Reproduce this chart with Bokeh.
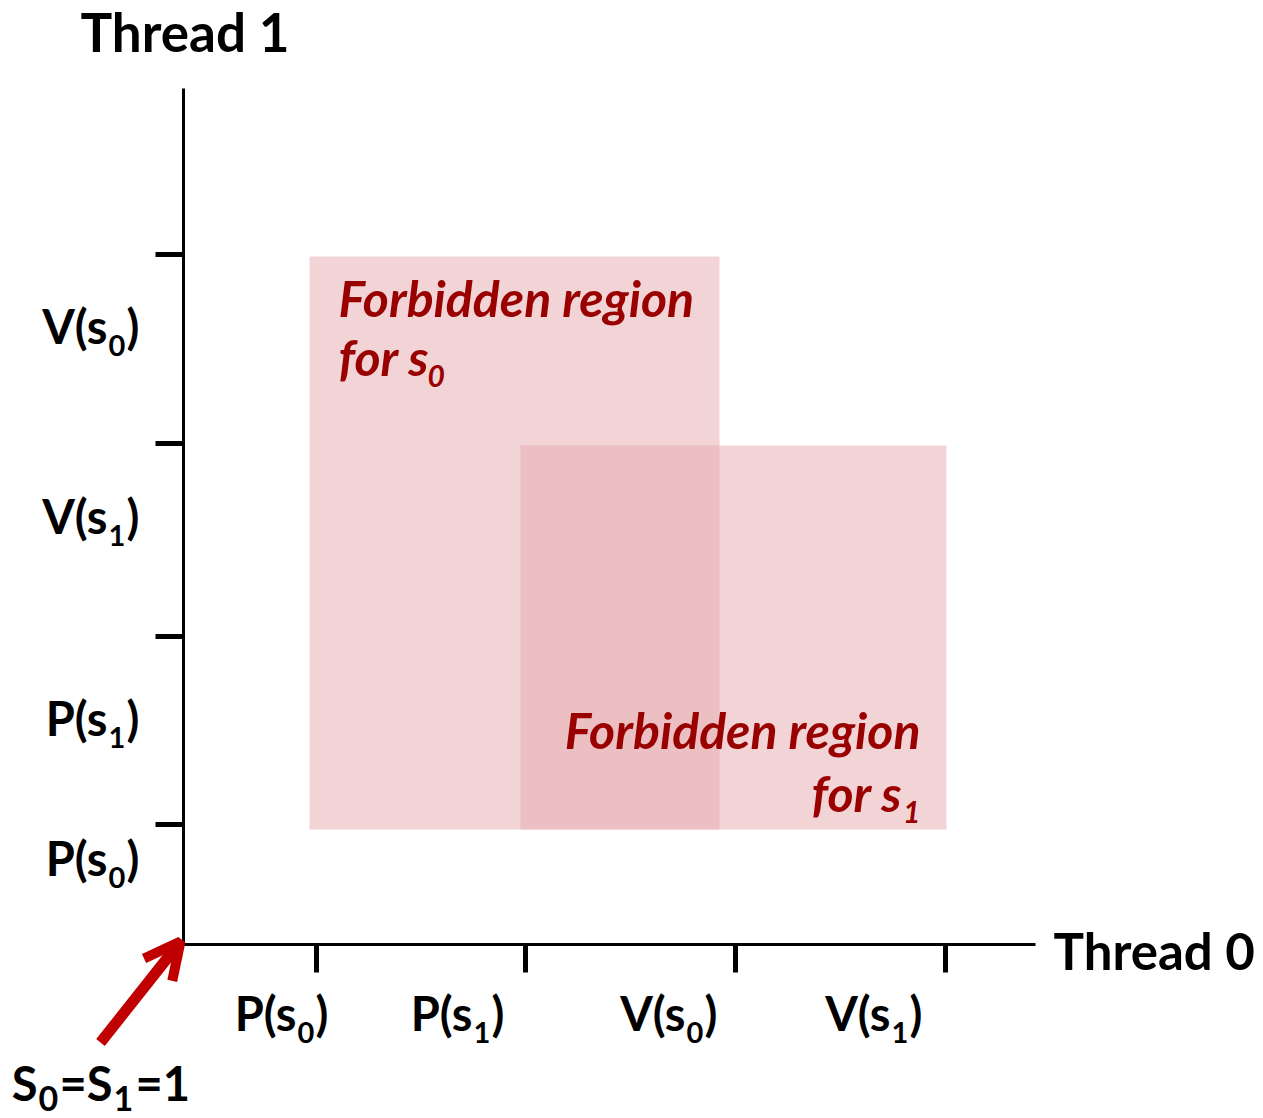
import re
from bokeh.plotting import figure
from bokeh.models import Range1d, LinearAxis, FixedTicker, Arrow, OpenHead
from bokeh.core.properties import value
from bokeh.embed import file_html
from bokeh.resources import INLINE

# ---------------- data (1 unit = 100 px of the reference drawing) -------------
thread0_events = ["P(s0)", "P(s1)", "V(s0)", "V(s1)"]
thread0_ticks = [1.33, 3.42, 5.52, 7.62]
thread1_events = ["P(s0)", "P(s1)", "V(s1)", "V(s0)"]
thread1_ticks = [1.20, 3.08, 5.01, 6.90]

region_names = ["s0", "s1"]
region_left = [1.26, 3.37]
region_right = [5.36, 7.63]
region_bottom = [1.15, 1.15]
region_top = [6.88, 4.99]

axis_x_end = 8.52
axis_y_end = 8.56

# ---------------- layout of labels ----------------
x_label_anchor = [1.13, 2.89, 5.02, 7.07]
x_label_base = -0.88
y_label_anchor = [-0.76, -0.76, -0.76, -0.76]
y_label_base = [0.67, 2.07, 4.09, 5.99]

FONT = value("Lato")
BLACK = "#000000"
DARKRED = "#990000"
RED = "#c00000"
BASE_FIX = 0.42  # baseline correction (fraction of font size)

p = figure(width=1263, height=1118, output_backend="svg", toolbar_location=None,
           x_axis_type=None, y_axis_type=None, min_border=0,
           x_range=Range1d(-1.83, 10.80), y_range=Range1d(-1.74, 9.44))
p.outline_line_color = None
p.grid.visible = False
p.background_fill_color = "white"

# forbidden regions
p.quad(left=region_left, right=region_right, bottom=region_bottom, top=region_top,
       fill_color=(229, 170, 174), fill_alpha=0.5, line_color=None)

# axes
common_axis = dict(major_tick_in=0, major_tick_out=28, minor_tick_in=0, minor_tick_out=0,
                   axis_line_width=3, major_tick_line_width=5,
                   axis_line_color=BLACK, major_tick_line_color=BLACK)
xaxis = LinearAxis(fixed_location=0, bounds=(0, axis_x_end),
                   ticker=FixedTicker(ticks=thread0_ticks),
                   major_label_overrides={t: "" for t in thread0_ticks}, **common_axis)
p.add_layout(xaxis, "below")
yaxis = LinearAxis(fixed_location=0, bounds=(0, axis_y_end),
                   ticker=FixedTicker(ticks=thread1_ticks),
                   major_label_overrides={t: "" for t in thread1_ticks}, **common_axis)
p.add_layout(yaxis, "left")


def txt(x, y, text, size, style, color, align="left", dx=0, dy=0):
    p.text(x=list(x), y=list(y), text=list(text), text_font=FONT, text_font_style=style,
           text_font_size=f"{size}px", text_color=color, text_align=align,
           text_baseline="alphabetic", x_offset=dx, y_offset=dy - round(BASE_FIX * size))


def split(lbl):
    m = re.match(r"^(.*?s)(\d)(.*)$", lbl)
    return m.group(1), m.group(2), m.group(3)


def sub_labels(xs, ys, labels, size, sub_size, drop, sub_w, color, style):
    pre, sub, post = zip(*[split(l) for l in labels])
    txt(xs, ys, pre, size, style, color, align="right")
    txt(xs, ys, sub, sub_size, style, color, align="left", dx=1, dy=drop)
    txt(xs, ys, post, size, style, color, align="left", dx=sub_w)


sub_labels(x_label_anchor, [x_label_base] * 4, thread0_events, 47, 29, 12, 19, BLACK, "bold")
sub_labels(y_label_anchor, y_label_base, thread1_events, 47, 29, 12, 19, BLACK, "bold")

# axis titles
txt([-1.03], [8.91], ["Thread 1"], 53, "bold", BLACK)
txt([8.70], [-0.27], ["Thread 0"], 51, "bold", BLACK)

# region captions
txt([1.55], [6.26], ["Forbidden region"], 50, "bold italic", DARKRED)
txt([1.55], [5.67], ["for s"], 50, "bold italic", DARKRED)
txt([1.55], [5.67], ["0"], 30, "bold italic", DARKRED, dx=89, dy=11)

txt([7.37], [1.94], ["Forbidden region"], 50, "bold italic", DARKRED, align="right")
txt([7.37], [1.31], ["for s"], 50, "bold italic", DARKRED, align="right", dx=-18)
txt([7.37], [1.31], ["1"], 30, "bold italic", DARKRED, align="right", dy=11)

# initial semaphore values
txt([-1.46], [-1.58], ["S"], 47, "bold", BLACK, align="right")
txt([-1.46], [-1.58], ["0"], 34, "bold", BLACK, dx=1, dy=10)
txt([-0.71], [-1.58], ["=S"], 47, "bold", BLACK, align="right")
txt([-0.71], [-1.58], ["1"], 34, "bold", BLACK, dx=1, dy=10)
txt([-0.71], [-1.58], ["=1"], 47, "bold", BLACK, dx=23)

p.add_layout(Arrow(end=OpenHead(size=36, line_width=10, line_color=RED),
                   x_start=-0.83, y_start=-0.98, x_end=-0.03, y_end=0.03,
                   line_width=11, line_color=RED))

open("out.html", "w").write(file_html(p, INLINE))
